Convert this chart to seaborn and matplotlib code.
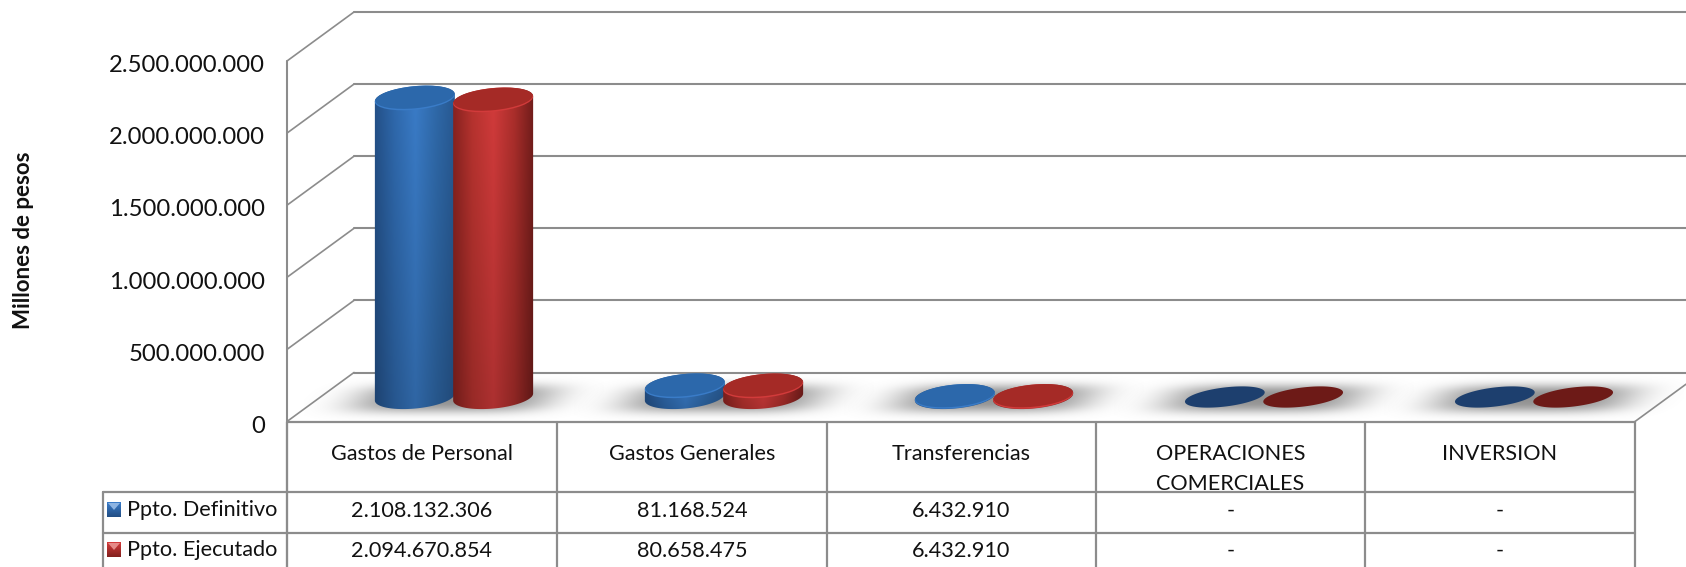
import numpy as np
import pandas as pd
import seaborn as sns
import matplotlib.pyplot as plt
from matplotlib.colors import LinearSegmentedColormap
from matplotlib.patches import Ellipse, Polygon
from matplotlib.transforms import ScaledTranslation

categories = ['Gastos de Personal', 'Gastos Generales', 'Transferencias',
              'OPERACIONES\nCOMERCIALES', 'INVERSION']
series_names = ['Ppto. Definitivo', 'Ppto. Ejecutado']
definitivo = [2108132306, 81168524, 6432910, 0, 0]
ejecutado = [2094670854, 80658475, 6432910, 0, 0]
y_ticks = [0, 500000000, 1000000000, 1500000000, 2000000000, 2500000000]

W, H = 1686, 567
GRID = '#8c8c8c'
FONT = 'Lato'
FS = 15.6
FS_TICK = 17.2
FS_LABEL = 16

# colours of each series: side gradient, top face, flat (zero) top
gradients = [['#234f86', '#2f69ad', '#3a7cc8', '#2f69a9', '#27578f'],
             ['#84211e', '#b8332f', '#d23b3b', '#ab2e2b', '#6c1b19']]
top_colors = ['#2c68ab', '#a52a26']
flat_colors = ['#1d3f6e', '#6d1a17']

sns.set_style('white')
plt.rcParams['font.family'] = [FONT, 'DejaVu Sans']


def fmt(v):
    return f'{v:,}'.replace(',', '.') if v else '-'


def box(x0, y_top, x1, y_bottom):
    # figure fractions from pixel positions
    return [x0 / W, 1 - y_bottom / H, (x1 - x0) / W, (y_bottom - y_top) / H]


fig = plt.figure(figsize=(W / 100, H / 100), dpi=100, facecolor='white')

# front plane: holds the value axis
front = fig.add_axes(box(287, 61, 1635, 421.5), zorder=0)
front.set_ylim(0, 2500000000)
front.set_xlim(0, 1)
front.set_yticks(y_ticks)
front.set_yticklabels([fmt(v) if v else '0' for v in y_ticks], fontsize=FS_TICK, color='#111111')
front.set_xticks([])
front.tick_params(axis='y', length=0, pad=16)
for lbl in front.get_yticklabels():
    lbl.set_transform(lbl.get_transform() + ScaledTranslation(0, -0.028, fig.dpi_scale_trans))
for s in front.spines.values():
    s.set_visible(False)
front.patch.set_alpha(0)

# bars stand in the middle of the depth of the floor
df = pd.DataFrame({
    'categoria': categories * 2,
    'serie': [series_names[0]] * 5 + [series_names[1]] * 5,
    'valor': definitivo + ejecutado,
})
ax = fig.add_axes(box(319, 42, 1669, 397), zorder=1)
sns.barplot(data=df, x='categoria', y='valor', hue='serie', width=0.58, gap=0,
            palette=[g[2] for g in gradients], legend=False, ax=ax)
ax.set_xlim(-0.5, 4.5)
ax.set_ylim(0, 2500000000)
ax.axis('off')

# everything else is drawn on a pixel canvas over the axes
bg = fig.add_axes([0, 0, 1, 1], zorder=2)
bg.patch.set_alpha(0)
bg.axis('off')


def to_px(axes, x, y):
    px, py = axes.transData.transform((x, y))
    return px, H - py


# walls and floor
DX, DY = 67, -49
for v in y_ticks:
    _, y = to_px(front, 0, v)
    bg.plot([287, 287 + DX], [y, y + DY], color=GRID, lw=1.2, solid_capstyle='round')
    bg.plot([287 + DX, W], [y + DY, y + DY], color=GRID, lw=1.5)
_, y0 = to_px(front, 0, 0)
_, ytop = to_px(front, 0, y_ticks[-1])
bg.plot([287, 287], [ytop, H], color=GRID, lw=1.5)
bg.plot([1635, 1686], [y0, y0 + DY * 51 / DX], color=GRID, lw=1.2)

# soft shadows on the floor
xx, yy = np.meshgrid(np.arange(300), np.arange(50))
for i in range(len(categories)):
    cx, _ = to_px(ax, i, 0)
    u = (xx - 150) + (yy - 25) * 0.9
    v = yy - 25
    alpha = 0.85 * np.exp(-(np.abs(u) / 98) ** 4) * np.exp(-(np.abs(v) / 14) ** 3)
    rgba = np.zeros((50, 300, 4))
    rgba[..., :3] = 0.5
    rgba[..., 3] = alpha
    bg.imshow(rgba, extent=(cx - 150, cx + 150, 398 + 25, 398 - 25), aspect='auto',
              interpolation='bilinear', zorder=2)


def ellipse_pts(cx, cy, a, b, tilt):
    t = np.linspace(0, 2 * np.pi, 241)[:-1]
    c, s = np.cos(np.radians(tilt)), np.sin(np.radians(tilt))
    return cx + a * np.cos(t) * c + b * np.sin(t) * s, cy - a * np.cos(t) * s + b * np.sin(t) * c


def arc(x, y, upper):
    # the part of an ellipse between its left and right extremes
    il, ir = int(np.argmin(x)), int(np.argmax(x))
    x, y = np.roll(x, -il), np.roll(y, -il)
    k = (ir - il) % len(x)
    a1 = (x[:k + 1], y[:k + 1])
    a2 = (np.r_[x[k:], x[0]][::-1], np.r_[y[k:], y[0]][::-1])
    first_upper = a1[1].mean() < a2[1].mean()
    return a1 if first_upper == upper else a2


# cylinders
B_RADIUS, TILT = 11.5, 5.5
for sidx, container in enumerate(ax.containers):
    cmap = LinearSegmentedColormap.from_list('side', gradients[sidx])
    values = [definitivo, ejecutado][sidx]
    for bar, val in zip(container, values):
        x0, ytop_bar = to_px(ax, bar.get_x(), bar.get_height())
        x1, ybase = to_px(ax, bar.get_x() + bar.get_width(), 0)
        cx, a = (x0 + x1) / 2, (x1 - x0) / 2 + 1
        if val == 0:
            ex, ey = ellipse_pts(cx, ybase, a, 9.5, 7)
            bar.set_clip_path(Polygon(np.c_[ex, ey], transform=bg.transData))
            bg.fill(ex, ey, color=flat_colors[sidx], lw=0, zorder=4)
            continue
        tx, ty = ellipse_pts(cx, ytop_bar, a, B_RADIUS, TILT)
        bx, by = ellipse_pts(cx, ybase, a, B_RADIUS, TILT)
        ux, uy = arc(tx, ty, True)
        lx, ly = arc(bx, by, False)
        body = Polygon(np.r_[np.c_[ux, uy], np.c_[lx[::-1], ly[::-1]]],
                       closed=True, transform=bg.transData, fc='none', ec='none')
        bg.add_patch(body)
        bar.set_clip_path(body)
        ramp = cmap(np.linspace(0, 1, 160))[None, :, :3]
        shade = np.linspace(1.0, 0.82, 100)[:, None, None]
        img = np.clip(ramp * shade, 0, 1)
        im = bg.imshow(img, extent=(cx - a - 2, cx + a + 2, ybase + B_RADIUS + 2, ytop_bar - B_RADIUS - 2),
                       aspect='auto', zorder=3, interpolation='bilinear')
        im.set_clip_path(body)
        # lighter rim, then the top face
        rim = Ellipse((cx, ytop_bar + 0.6), 2 * a, 2 * B_RADIUS, angle=-TILT, fc=gradients[sidx][2],
                      ec='none', zorder=4)
        bg.add_patch(rim)
        face = Ellipse((cx, ytop_bar - 0.4), 2 * a - 1, 2 * B_RADIUS - 1, angle=-TILT, fc=top_colors[sidx],
                       ec='none', zorder=5)
        bg.add_patch(face)

# data table
col_x = [287, 557, 827, 1096, 1365, 1635]
row_y = [421.5, 492, 533, H]
LEFT = 103
bg.plot([287, 1635], [row_y[0], row_y[0]], color=GRID, lw=1.6, zorder=6)
for y in row_y[1:3]:
    bg.plot([LEFT, 1635], [y, y], color=GRID, lw=1.6, zorder=6)
for x in col_x:
    bg.plot([x, x], [row_y[0], H], color=GRID, lw=1.6, zorder=6)
bg.plot([LEFT, LEFT], [row_y[1], H], color=GRID, lw=1.6, zorder=6)

for i, name in enumerate(categories):
    xc = (col_x[i] + col_x[i + 1]) / 2
    for j, line in enumerate(name.split('\n')):
        bg.text(xc, 454 + j * 30, line, ha='center', va='center', fontsize=FS, color='#111111', zorder=5)
    bg.text(xc, 511, fmt(definitivo[i]), ha='center', va='center', fontsize=FS, color='#111111', zorder=7)
    bg.text(xc, 551, fmt(ejecutado[i]), ha='center', va='center', fontsize=FS, color='#111111', zorder=7)

# legend keys in the first table column
for sidx, (name, yc) in enumerate(zip(series_names, [510, 550])):
    cmap = LinearSegmentedColormap.from_list('key', [gradients[sidx][2], gradients[sidx][0]])
    bg.imshow(cmap(np.linspace(0, 1, 16))[:, None, :3], extent=(107, 121, yc + 7.5, yc - 7.5),
              aspect='auto', zorder=7)
    bg.fill([108, 120, 114], [yc - 7, yc - 7, yc], color='#8db4e2' if sidx == 0 else '#e58a87', lw=0, zorder=8)
    bg.text(127, yc + 0.5, name, ha='left', va='center', fontsize=FS, color='#111111', zorder=7)

bg.text(24, 240, 'Millones de pesos', rotation=90, ha='center', va='center',
        fontsize=FS_LABEL, fontweight='bold', color='#111111')

bg.set_xlim(0, W)
bg.set_ylim(H, 0)

fig.savefig('out.png', dpi=100)
